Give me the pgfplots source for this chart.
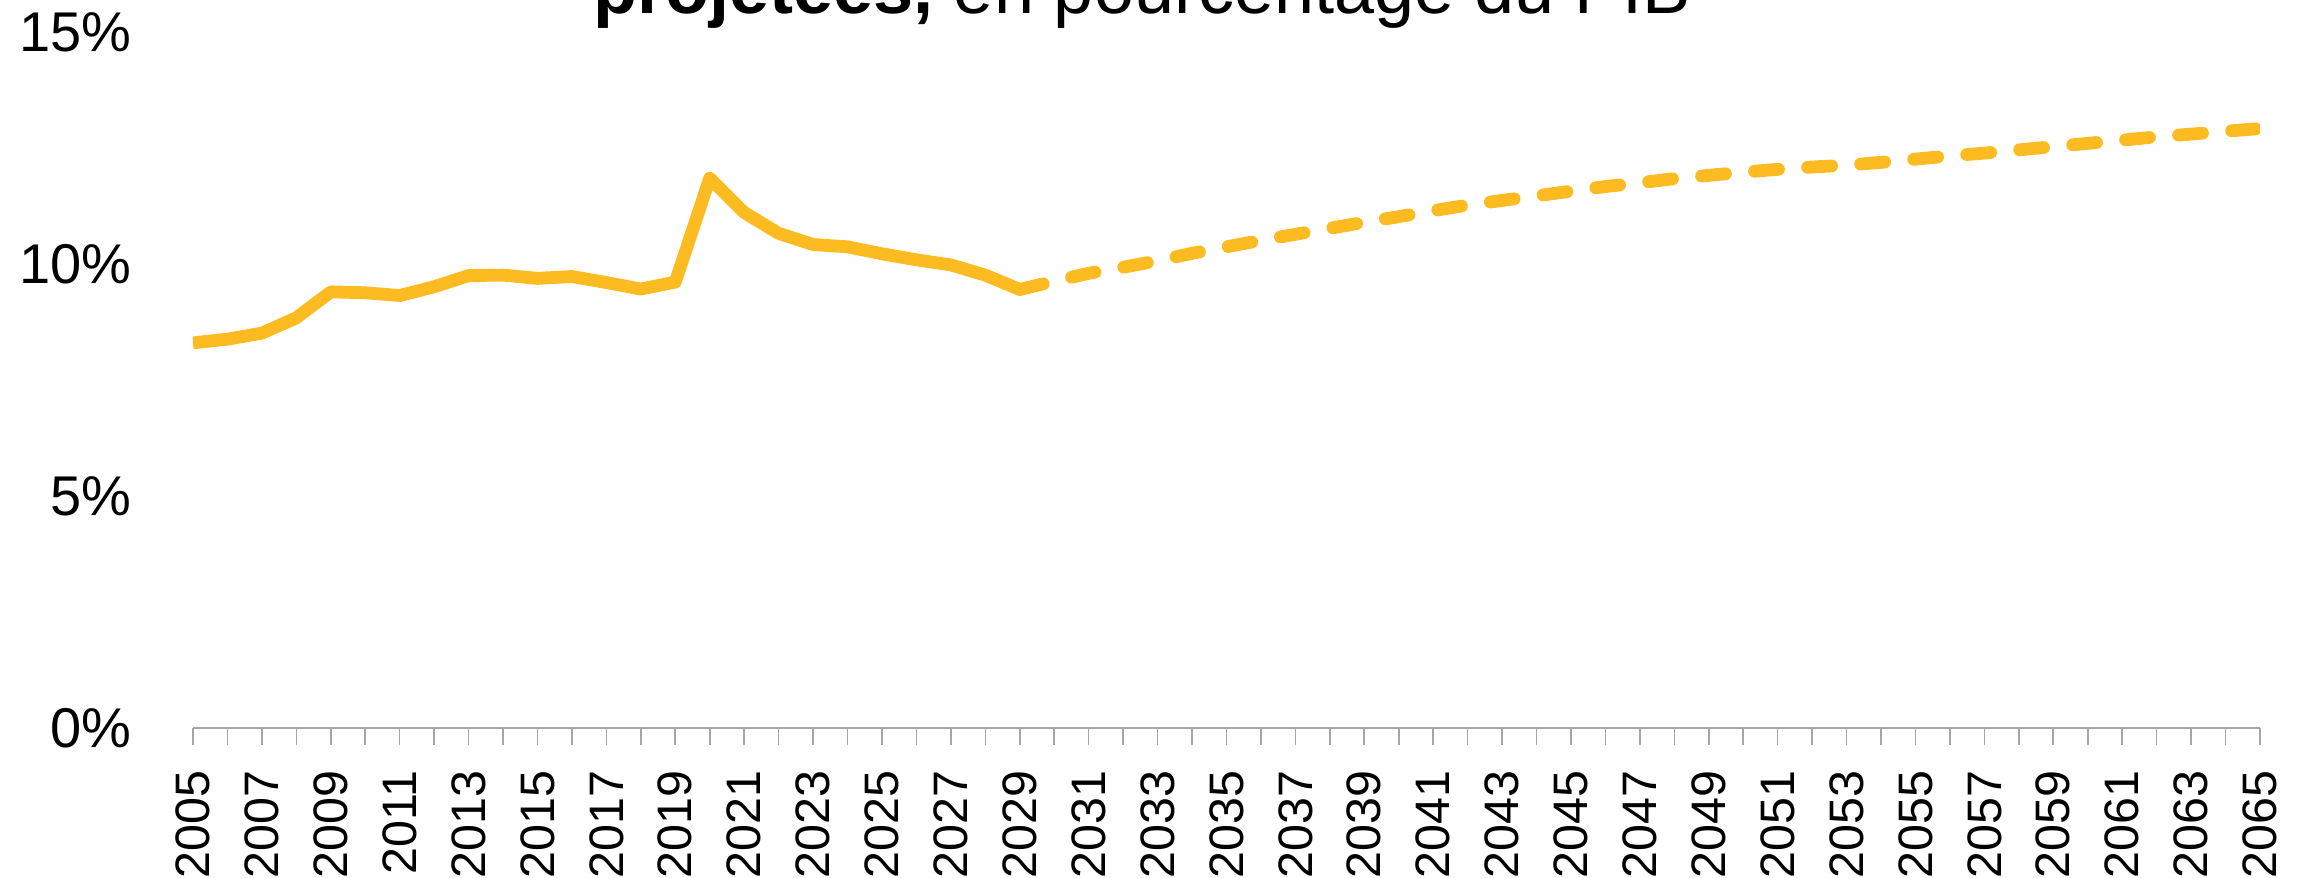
\documentclass[border=0pt]{standalone}
\usepackage{fontspec}
\setmainfont{Liberation Sans}
\usepackage{pgfplots}
\pgfplotsset{compat=1.18}
\definecolor{jaune}{HTML}{FBBB21}
\definecolor{axe}{HTML}{A6A6A6}

\begin{document}
\begin{tikzpicture}
\begin{axis}[
  scale only axis,
  width=516.75pt,
  height=174pt,
  xmin=2005, xmax=2065,
  ymin=0, ymax=15,
  axis x line*=bottom,
  axis y line*=left,
  x axis line style={-, draw=axe, line width=0.5pt},
  y axis line style={draw=none},
  ytick style={draw=none},
  tick align=outside,
  xtick={2005,2007,...,2065},
  minor xtick={2006,2008,...,2064},
  major tick length=4.2pt,
  minor tick length=4.2pt,
  xtick style={draw=axe, line width=0.4pt},
  minor tick style={draw=axe, line width=0.4pt},
  xticklabel style={rotate=90, anchor=east, inner xsep=6.2pt,
    font=\fontsize{12.1}{14}\selectfont,
    /pgf/number format/1000 sep={},
    /pgf/number format/assume math mode=true},
  ytick={0,5,10,15},
  yticklabels={0\%,5\%,10\%,15\%},
  yticklabel style={font=\fontsize{14}{16}\selectfont, anchor=east, inner xsep=0pt, xshift=-11pt},
]
% observe
\addplot[jaune, line width=3.2pt, line join=round] coordinates {
  (2005,8.30) (2006,8.38) (2007,8.51) (2008,8.84) (2009,9.40)
  (2010,9.38) (2011,9.32) (2012,9.51) (2013,9.75) (2014,9.76)
  (2015,9.69) (2016,9.73) (2017,9.60) (2018,9.46) (2019,9.61)
  (2020,11.85) (2021,11.11) (2022,10.66) (2023,10.42) (2024,10.37)
  (2025,10.22) (2026,10.09) (2027,9.98) (2028,9.76) (2029,9.45)
};
% projete
\addplot[jaune, line width=3.2pt, line cap=round, dash pattern=on 6pt off 7.3pt] coordinates {
  (2029,9.45) (2030,9.63) (2031,9.80) (2032,9.93) (2033,10.07)
  (2034,10.23) (2035,10.37) (2036,10.51) (2037,10.64) (2038,10.77)
  (2039,10.90) (2040,11.02) (2041,11.15) (2042,11.27) (2043,11.37)
  (2044,11.47) (2045,11.57) (2046,11.67) (2047,11.75) (2048,11.84)
  (2049,11.91) (2050,11.98) (2051,12.04) (2052,12.09) (2053,12.13)
  (2054,12.19) (2055,12.26) (2056,12.33) (2057,12.39) (2058,12.46)
  (2059,12.53) (2060,12.60) (2061,12.67) (2062,12.74) (2063,12.80)
  (2064,12.86) (2065,12.92)
};
\end{axis}
\node[anchor=base, font=\fontsize{18}{20}\selectfont] at (237.3pt,178.7pt)
  {\textbf{projetées,} en pourcentage du PIB};
\pgfresetboundingbox
\useasboundingbox (-48.25pt,-37.5pt) rectangle (528.5pt,182pt);
\end{tikzpicture}
\end{document}
